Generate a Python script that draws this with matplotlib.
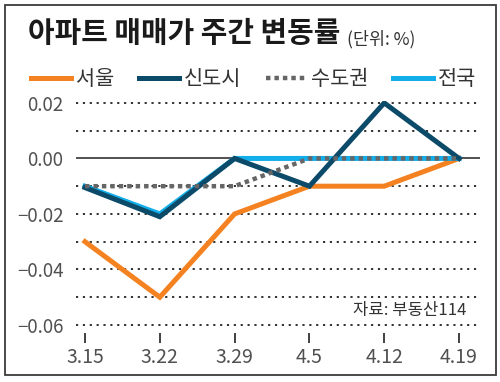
import matplotlib
matplotlib.use("Agg")
import matplotlib.pyplot as plt
from matplotlib.patches import Rectangle

plt.rcParams['font.family'] = ['Noto Sans CJK KR', 'DejaVu Sans']

weeks = ['3.15', '3.22', '3.29', '4.5', '4.12', '4.19']
seoul = [-0.03, -0.05, -0.02, -0.01, -0.01, 0.00]
newtown = [-0.0105, -0.021, 0.00, -0.01, 0.02, 0.00]
capital = [-0.01, -0.01, -0.01, 0.00, 0.00, 0.00]
nation = [-0.01, -0.02, 0.00, 0.00, 0.00, 0.00]
series_names = ['서울', '신도시', '수도권', '전국']
ytick_vals = [0.02, 0.00, -0.02, -0.04, -0.06]
ytick_labels = ['0.02', '0.00', '−0.02', '−0.04', '−0.06']
grid_vals = [0.02, 0.01, -0.01, -0.02, -0.03, -0.04, -0.05, -0.06]

W, H = 500, 382
fig = plt.figure(figsize=(W/100, H/100), dpi=100)
fig.patch.set_facecolor('white')

# outer frame
fig.patches.append(Rectangle((5/W, (H-375)/H), 491/W, 370/H, transform=fig.transFigure,
                             fill=False, edgecolor='#3a3a3a', linewidth=1.3))

ax = fig.add_axes([76/W, (H-333)/H, 404/W, (333-101)/H])
x = list(range(len(weeks)))
ax.set_xlim(-0.12, 5.28)
ax.set_ylim(-0.0629, 0.0207)

for g in grid_vals:
    ax.axhline(g, color='#222222', linestyle=(0, (1.2, 2.6)), linewidth=1.3, zorder=1)
ax.axhline(0, color='#222222', linewidth=1.1, zorder=1)

c_orange = '#F58220'
c_navy = '#0B4A68'
c_gray = '#666666'
c_cyan = '#12AEEA'
lw = 3.6
l1, = ax.plot(x, seoul, color=c_orange, lw=lw, zorder=3, solid_joinstyle='miter', label=series_names[0])
l4, = ax.plot(x, nation, color=c_cyan, lw=lw, zorder=4, solid_joinstyle='miter', label=series_names[3])
l2, = ax.plot(x, newtown, color=c_navy, lw=lw, zorder=5, solid_joinstyle='miter', label=series_names[1])
l3, = ax.plot(x, capital, color=c_gray, lw=3.2, linestyle=(0, (1.0, 0.9)), dash_capstyle='butt',
              zorder=6, label=series_names[2])

for s in ax.spines.values():
    s.set_visible(False)
ax.set_xticks(x)
ax.set_xticklabels(weeks)
ax.set_yticks(ytick_vals)
ax.set_yticklabels(ytick_labels)
ax.tick_params(axis='x', direction='out', length=7, width=1.3, color='#333333',
               labelsize=14, labelcolor='#505050', pad=3)
ax.tick_params(axis='y', length=0, labelsize=13.5, labelcolor='#505050', pad=9)

fig.text(28/W, 1-33/H, '아파트 매매가 주간 변동률', fontsize=20.8, fontweight='bold',
         color='#1a1a1a', va='center', ha='left')
fig.text(347/W, 1-39/H, '(단위: %)', fontsize=12.5, color='#333333', va='center', ha='left')

leg = fig.legend(handles=[l1, l2, l3, l4], labels=series_names, loc='center left',
                 bbox_to_anchor=(31/W, 1-79/H), ncol=4, frameon=False, fontsize=15,
                 handlelength=1.9, handletextpad=0.25, columnspacing=1.2, borderaxespad=0,
                 borderpad=0)
for t in leg.get_texts():
    t.set_color('#333333')

fig.text(466/W, 1-311/H, '자료: 부동산114', fontsize=12, color='#333333', va='center', ha='right')

fig.savefig('out.png', dpi=100)
